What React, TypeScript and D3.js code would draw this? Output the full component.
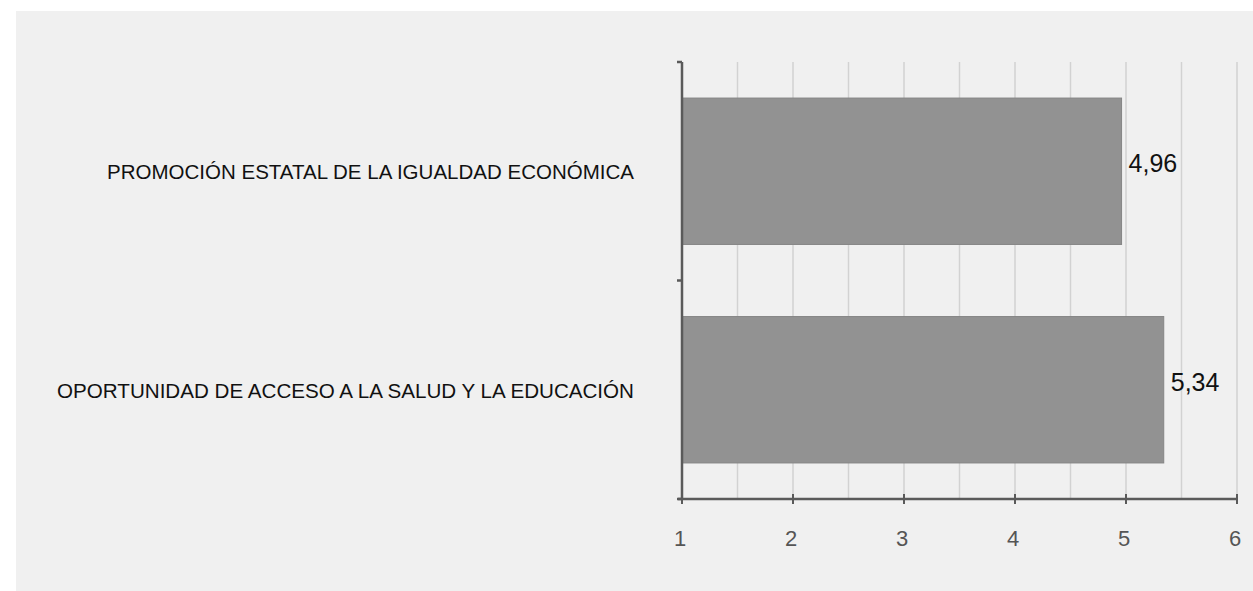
import React, { useEffect, useRef } from 'react';
import * as d3 from 'd3';

const categories = [
  'PROMOCIÓN ESTATAL DE LA IGUALDAD ECONÓMICA',
  'OPORTUNIDAD DE ACCESO A LA SALUD Y LA EDUCACIÓN',
];
const values = [4.96, 5.34];
const valueLabels = ['4,96', '5,34'];
const xTicks = [1, 2, 3, 4, 5, 6];
const gridTicks = [1.5, 2, 2.5, 3, 3.5, 4, 4.5, 5, 5.5, 6];
// measured widths of the category labels in the picture
const labelWidths = [527, 577];

const W = 1253;
const H = 591;

function BarChart() {
  const svgRef = useRef(null);

  useEffect(() => {
    const svg = d3.select(svgRef.current);
    svg.selectAll('*').remove();

    // panel background
    svg.append('rect').attr('x', 16).attr('y', 11).attr('width', W - 16).attr('height', H - 11).attr('fill', '#f0f0f0');

    const x = d3.scaleLinear().domain([1, 6]).range([682, 1237]);
    const y = d3.scaleBand().domain(categories).range([62, 499]).paddingInner(0.33).paddingOuter(0.165);
    const band = d3.scaleBand().domain(categories).range([62, 499]);

    // grid
    svg
      .append('g')
      .selectAll('line')
      .data(gridTicks)
      .join('line')
      .attr('x1', (d) => x(d))
      .attr('x2', (d) => x(d))
      .attr('y1', 62)
      .attr('y2', 499)
      .attr('stroke', '#d2d2d2')
      .attr('stroke-width', 1.5);

    // bars
    svg
      .append('g')
      .selectAll('rect')
      .data(values)
      .join('rect')
      .attr('x', x(1))
      .attr('y', (d, i) => y(categories[i]))
      .attr('width', (d) => x(d) - x(1))
      .attr('height', y.bandwidth())
      .attr('fill', '#929292')
      .attr('stroke', '#858585')
      .attr('stroke-width', 1);

    // value labels
    svg
      .append('g')
      .selectAll('text')
      .data(values)
      .join('text')
      .attr('x', (d) => x(d) + 7)
      .attr('y', (d, i) => y(categories[i]) + y.bandwidth() / 2 - 8)
      .attr('dominant-baseline', 'central')
      .attr('font-family', '"Liberation Sans", Arial, sans-serif')
      .attr('font-size', 25)
      .attr('fill', '#111')
      .text((d, i) => valueLabels[i]);

    // category labels
    svg
      .append('g')
      .selectAll('text')
      .data(categories)
      .join('text')
      .attr('x', 634)
      .attr('y', (d) => band(d) + band.bandwidth() / 2 + 8)
      .attr('text-anchor', 'end')
      .attr('font-family', '"Liberation Sans", Arial, sans-serif')
      .attr('font-size', 20)
      .attr('fill', '#111')
      .attr('textLength', (d, i) => labelWidths[i])
      .attr('lengthAdjust', 'spacingAndGlyphs')
      .text((d) => d);

    const axisColor = '#5a5a5a';

    // y axis
    svg.append('line').attr('x1', 682).attr('x2', 682).attr('y1', 62).attr('y2', 500).attr('stroke', axisColor).attr('stroke-width', 2.5);
    svg
      .append('g')
      .selectAll('line')
      .data([62, band(categories[1]), 499])
      .join('line')
      .attr('x1', 677)
      .attr('x2', 682)
      .attr('y1', (d) => d)
      .attr('y2', (d) => d)
      .attr('stroke', axisColor)
      .attr('stroke-width', 2.5);

    // x axis
    svg.append('line').attr('x1', 678).attr('x2', 1238).attr('y1', 499).attr('y2', 499).attr('stroke', axisColor).attr('stroke-width', 2.5);
    svg
      .append('g')
      .selectAll('line')
      .data(xTicks)
      .join('line')
      .attr('x1', (d) => x(d))
      .attr('x2', (d) => x(d))
      .attr('y1', 494)
      .attr('y2', 504)
      .attr('stroke', axisColor)
      .attr('stroke-width', 2);
    svg
      .append('g')
      .selectAll('text')
      .data(xTicks)
      .join('text')
      .attr('x', (d) => x(d) - 2)
      .attr('y', 546)
      .attr('text-anchor', 'middle')
      .attr('font-family', '"Liberation Sans", Arial, sans-serif')
      .attr('font-size', 22)
      .attr('fill', '#555')
      .text((d) => d);
  }, []);

  return <svg ref={svgRef} width={W} height={H} style={{ position: 'absolute', left: 0, top: 0 }} xmlns="http://www.w3.org/2000/svg" />;
}

export default function App() {
  return (
    <div>
      <BarChart />
    </div>
  );
}
